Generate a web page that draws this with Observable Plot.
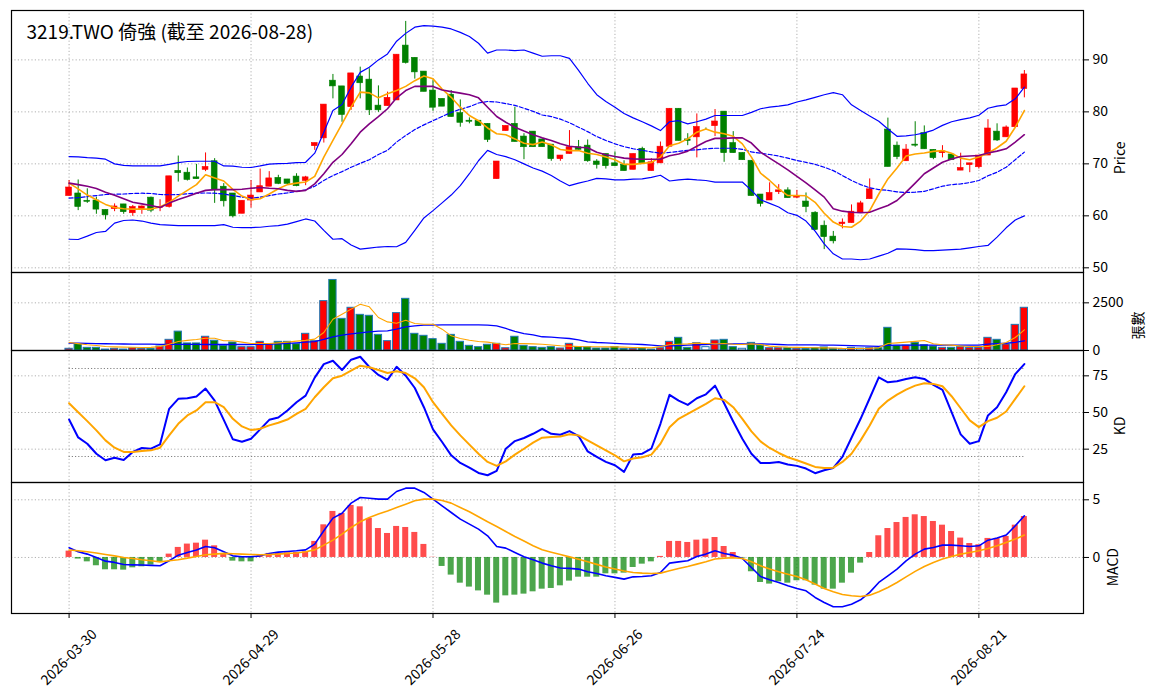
<!DOCTYPE html>
<html><head><meta charset="utf-8">
<script src="https://cdn.jsdelivr.net/npm/d3@7"></script>
<script src="https://cdn.jsdelivr.net/npm/@observablehq/plot@0.6"></script>
<style>
html,body{margin:0;padding:0;background:#fff;}
#chart{width:1156px;height:698px;position:relative;overflow:hidden;}
#chart svg{display:block;}
</style></head><body><div id="chart"></div><script>
const title = "3219.TWO 倚強 (截至 2026-08-28)";
const tickIndex = [0, 20, 40, 60, 80, 100];
const tickLabels = ["2026-03-30", "2026-04-29", "2026-05-28", "2026-06-26", "2026-07-24", "2026-08-21"];
const priceTicks = [50, 60, 70, 80, 90];
const volTicks = [0, 2500];
const kdTicks = [25, 50, 75];
const kdLevels = [20, 80];
const macdTicks = [0, 5];

const open = [63.8,64.3,62.9,62.95,61.15,61.3,62.2,60.5,61.3,63.5,
61.5,61.7,68.65,68.3,67.4,68.85,70.5,65.6,64.3,60.4,
62.95,64.5,65.6,67.3,67.0,67.55,66.7,73.4,74.9,86.0,
84.9,80.9,86.8,86.2,81.2,81.1,82.2,92.75,90.4,87.75,
84.1,82.5,83.3,79.75,78.3,78.3,77.7,67.05,76.3,77.7,
75.25,76.2,74.7,73.7,70.9,71.9,73.2,73.5,70.45,71.9,
70.1,69.8,68.85,72.9,68.6,70.1,73.3,80.6,74.7,75.1,
76.7,77.25,80.05,74.0,72.1,70.6,64.1,62.95,64.55,64.9,
63.5,62.75,60.6,58.1,56.0,58.4,58.6,60.6,63.2,71.5,
76.6,73.5,70.5,73.7,75.9,72.7,72.05,71.8,68.7,69.75,
69.35,71.6,76.2,75.1,77.05,84.4];
const high = [66.8,66.9,65.2,63.6,61.15,62.3,62.2,62.0,61.9,63.6,
63.1,67.6,71.5,69.2,69.9,72.1,71.0,66.2,64.3,62.9,
66.8,69.0,68.5,67.8,67.0,68.1,67.6,74.0,81.4,87.2,
84.9,87.4,88.6,88.3,85.0,83.8,91.0,97.4,90.4,87.75,
86.1,82.5,84.1,82.3,78.85,78.3,77.7,70.45,77.3,80.9,
75.8,76.2,74.7,73.7,71.6,76.4,74.5,74.6,70.8,71.9,
72.3,70.6,71.9,73.2,71.0,74.2,80.6,80.6,75.8,79.6,
76.9,80.45,80.05,76.2,72.1,70.6,64.1,66.35,66.0,65.4,
64.9,64.4,60.8,59.0,57.0,59.4,62.1,62.8,67.1,71.5,
78.8,74.2,73.7,78.1,77.3,72.7,73.5,71.8,72.05,70.1,
71.6,78.5,77.7,77.3,84.5,87.95];
const low = [63.8,61.0,62.4,60.3,59.2,60.8,60.3,59.9,60.3,60.6,
60.8,61.5,66.5,66.7,67.05,68.5,62.4,61.7,59.6,60.4,
61.5,64.5,65.6,66.0,66.0,65.6,65.8,72.6,74.0,82.5,
78.0,80.3,82.5,79.3,79.9,81.1,82.2,89.2,86.3,83.85,
80.1,81.0,79.0,77.05,77.7,77.25,74.1,67.05,76.3,74.2,
70.8,73.2,73.2,70.5,70.5,71.9,72.6,70.3,69.0,69.0,
69.55,68.6,68.85,70.1,68.6,70.1,73.3,74.4,73.5,71.15,
76.5,75.25,70.3,72.05,70.7,63.8,61.7,62.95,64.1,63.4,
63.3,60.6,57.2,53.5,54.6,57.5,58.6,60.6,63.2,71.5,
69.4,70.8,70.5,73.2,72.8,70.8,71.15,70.7,68.7,68.3,
69.0,71.6,74.3,75.1,77.05,82.7];
const close = [65.45,61.7,62.7,61.2,60.1,61.8,60.7,61.7,61.8,61.0,
61.7,67.6,68.2,66.9,67.05,69.4,64.9,62.8,59.9,62.9,
63.9,65.7,67.2,66.15,66.15,65.7,67.4,74.0,81.4,84.9,
79.4,87.4,85.5,80.3,80.3,82.7,91.0,89.4,87.6,83.85,
80.8,81.0,79.0,77.9,78.1,77.25,74.6,70.45,77.3,74.2,
73.2,73.2,73.2,70.9,71.6,73.2,72.7,70.5,69.8,69.55,
69.55,68.6,71.9,70.1,70.3,73.3,80.6,74.4,74.4,77.1,
76.7,78.15,72.05,72.05,70.7,63.8,62.3,64.4,64.9,63.4,
63.8,61.7,57.3,55.9,55.1,58.7,60.8,62.4,65.1,71.5,
69.4,71.3,72.75,73.5,72.8,71.1,72.4,70.7,69.2,70.1,
71.6,76.8,74.5,77.0,84.5,87.2];
const volume = [90,330,140,140,50,90,50,120,90,90,
210,560,990,370,370,720,510,245,420,175,
175,455,315,455,455,330,875,490,2590,3700,
1660,2240,1870,1820,820,490,1960,2710,875,770,
595,350,820,455,245,175,300,350,120,720,
245,175,140,175,105,350,175,175,105,105,
175,90,90,105,50,120,455,665,140,385,
175,525,560,175,90,400,260,120,120,120,
90,90,120,160,90,70,140,100,120,120,
1190,245,260,400,280,210,140,140,175,140,
140,665,560,315,1345,2240];
const flatVolumeDays = [64, 70, 74, 85, 87];

const ma5 = [66.3,65.2,64.0,63.1,62.2,61.6,61.35,61.3,61.3,61.3,
61.7,62.6,63.8,64.9,66.0,67.9,67.3,66.7,65.1,63.8,
63.1,63.3,64.2,65.2,66.0,66.3,66.5,67.6,71.3,74.5,
77.7,80.9,83.8,83.65,82.7,83.5,84.1,84.9,86.0,86.9,
86.35,84.4,82.8,80.9,79.3,78.3,76.9,75.8,75.6,74.8,
73.95,73.7,74.2,73.65,72.75,72.55,72.55,72.05,71.8,71.3,
70.8,69.9,69.9,70.1,70.25,71.3,73.5,73.95,74.8,76.1,
76.7,76.1,75.8,75.3,73.85,71.3,68.2,66.8,65.2,63.9,
63.9,63.85,62.6,60.5,58.8,57.95,57.8,59.0,61.0,64.2,
67.1,69.2,71.5,71.9,72.1,72.4,72.55,72.05,71.1,70.8,
71.3,72.05,73.1,74.35,77.05,80.25];
const ma10 = [66.3,66.0,65.7,65.25,64.55,63.95,63.3,62.6,62.3,62.0,
61.6,62.45,63.15,63.7,64.35,64.9,65.05,65.05,65.05,65.1,
65.3,65.45,65.3,65.2,64.9,64.7,64.9,66.15,68.1,70.3,
71.8,73.85,76.1,77.7,79.1,80.6,82.7,84.1,84.9,84.9,
84.9,84.2,83.9,83.6,83.3,82.7,80.9,79.1,78.0,77.05,
76.3,75.6,75.0,74.5,73.85,73.4,73.2,73.1,72.25,71.75,
71.4,71.1,70.95,70.9,70.9,70.9,71.55,71.9,72.45,73.4,
74.3,74.9,74.9,75.0,75.0,74.0,72.25,71.1,70.0,68.85,
67.6,66.35,65.0,63.6,61.35,60.9,60.7,60.6,60.7,61.35,
62.0,62.95,64.55,66.3,68.1,69.2,70.3,70.95,71.4,71.5,
71.6,72.1,72.45,72.9,74.2,75.6];
const bbUpper = [71.4,71.35,71.2,71.1,70.9,70.0,69.7,69.6,69.6,69.6,
69.6,69.9,70.25,70.45,70.5,70.5,70.5,69.6,69.55,69.35,
69.3,69.6,69.95,70.05,70.1,70.25,70.3,72.05,76.1,80.25,
81.4,84.75,87.6,88.6,90.0,91.15,93.6,95.1,96.3,96.6,
96.5,96.3,95.95,95.3,94.5,93.2,91.3,91.9,91.9,91.8,
91.9,91.3,90.7,90.8,90.8,90.3,88.0,85.5,83.3,82.0,
80.9,79.7,78.85,78.1,77.3,76.4,78.1,78.3,77.7,78.1,
78.6,79.3,79.3,79.3,79.3,79.9,80.6,80.9,81.1,81.35,
81.9,82.3,82.8,83.3,83.7,83.3,81.35,80.25,79.2,78.2,
76.7,75.3,75.4,75.6,75.95,76.5,77.4,78.1,78.5,78.85,
79.35,80.7,81.1,81.35,82.5,84.75];
const bbMid = [63.4,63.5,63.7,63.9,64.1,64.15,64.2,64.3,64.35,64.3,
64.1,64.05,64.1,64.25,64.35,64.4,64.35,64.2,63.9,63.6,
63.4,63.6,63.9,64.2,64.4,64.7,65.0,65.7,66.8,67.75,
68.5,69.35,70.1,70.8,71.8,72.6,74.2,75.45,76.6,77.5,
78.3,79.1,79.9,80.5,81.0,81.7,82.0,81.9,81.6,81.25,
80.7,80.1,79.4,79.1,78.6,77.9,77.05,76.2,75.25,74.5,
73.85,73.3,72.9,72.6,72.3,72.05,72.2,72.4,72.6,72.7,
72.9,73.0,73.0,73.0,72.8,72.3,72.05,71.8,71.5,71.1,
70.65,70.3,69.9,69.35,68.7,67.75,66.8,66.0,65.4,65.05,
64.9,64.6,64.5,64.55,64.7,65.2,65.7,66.0,66.15,66.4,
66.8,67.7,68.4,69.35,70.8,72.25];
const bbLower = [55.5,55.45,56.1,56.8,57.0,58.6,59.1,59.2,59.0,58.6,
58.3,58.2,58.1,58.1,58.1,58.1,58.1,58.3,57.8,57.75,
57.75,57.8,58.0,58.1,58.4,58.9,59.4,59.0,57.2,55.5,
55.6,54.4,53.6,53.8,54.0,54.1,54.05,54.9,57.2,59.6,
61.0,62.5,64.0,65.8,68.1,70.6,72.6,71.8,71.4,70.8,
70.0,69.2,68.6,67.75,66.7,65.8,66.3,66.7,67.2,67.1,
66.9,66.9,67.05,67.1,67.4,67.8,66.7,66.9,67.05,66.9,
66.8,66.5,66.5,66.5,66.5,64.9,63.1,62.4,61.7,60.6,
60.1,59.0,57.05,54.6,52.7,51.7,51.7,51.55,51.7,52.25,
52.8,53.65,53.6,53.5,53.3,53.3,53.4,53.5,53.6,53.85,
54.1,54.3,55.9,57.7,59.2,60.0];

const volMa5 = [420,360,300,260,210,190,175,170,160,165,
210,330,470,530,575,645,645,510,510,440,
370,370,370,400,440,490,530,595,945,1640,
1905,2170,2430,2290,1730,1500,1430,1590,1415,1380,
1380,1120,770,630,540,470,440,370,300,370,
360,350,330,290,250,230,210,200,195,190,
190,175,160,150,140,210,300,330,350,385,
370,350,370,330,315,350,315,230,200,175,
165,155,145,140,130,110,105,105,115,140,
370,400,440,480,525,350,300,280,240,210,
210,210,300,420,680,1085];
const volMa20 = [385,380,375,365,355,345,340,335,330,330,
325,325,325,320,320,315,315,315,315,315,
315,320,330,350,370,400,440,470,580,720,
805,875,925,980,1015,1030,1120,1240,1290,1330,
1330,1340,1340,1340,1340,1340,1330,1290,1155,1000,
890,820,720,700,665,630,560,455,420,400,
370,350,330,315,280,245,245,260,280,300,
315,330,350,350,350,350,350,330,315,300,
300,295,290,285,280,270,255,240,225,215,
270,280,280,280,280,280,280,280,280,280,
280,330,360,380,430,510];

const kValues = [45.2,33.0,28.7,21.9,17.4,19.2,17.6,23.1,25.8,25.3,
28.3,52.5,59.3,59.7,60.9,66.3,58.1,45.0,31.7,30.1,
32.1,38.5,45.0,46.6,51.4,57.0,61.5,73.8,83.0,85.3,
79.0,86.0,88.0,81.0,75.6,72.2,81.2,75.1,66.7,53.6,
38.5,29.9,20.8,15.6,12.4,8.8,7.2,10.2,25.3,30.5,
32.6,35.5,38.9,35.5,34.8,37.3,33.9,23.5,19.7,16.3,
14.0,9.5,21.3,21.9,25.3,42.3,62.0,58.1,55.2,59.7,
62.4,68.3,56.3,43.9,32.1,21.9,15.6,15.6,16.3,14.5,
13.6,11.8,8.6,10.6,12.2,19.7,32.8,45.7,59.7,74.0,
70.6,71.3,72.9,74.0,72.9,68.8,65.4,50.2,35.1,28.7,
30.5,48.0,53.6,63.8,76.2,83.0];
const dValues = [56.3,50.2,44.1,37.8,31.0,26.0,23.1,23.1,23.8,24.2,
26.0,34.4,42.3,48.0,51.4,57.0,57.0,53.6,45.7,40.5,
38.0,38.9,41.2,43.0,45.2,49.1,52.5,60.4,67.2,73.3,
75.1,78.5,81.9,80.8,79.0,76.9,78.1,76.9,73.3,67.2,
57.0,49.1,41.2,34.4,28.1,21.9,16.3,13.6,16.7,21.3,
25.3,29.4,32.8,33.3,33.7,35.1,34.4,31.0,27.6,24.2,
20.8,16.7,18.6,19.5,21.3,28.7,40.0,45.7,49.1,52.5,
55.9,59.7,58.6,53.6,45.7,37.1,30.3,25.8,22.4,19.5,
17.4,15.2,12.9,12.2,12.4,16.3,21.9,31.0,41.2,52.5,
58.1,62.2,65.6,68.3,69.9,69.5,67.9,61.1,52.9,44.6,
40.0,44.1,46.4,50.7,59.3,67.9];

const macd = [0.84,0.49,0.29,0,-0.32,-0.43,-0.61,-0.64,-0.66,-0.69,
-0.72,-0.29,0.2,0.43,0.64,0.95,0.84,0.49,0.14,0.06,
0.06,0.14,0.35,0.46,0.52,0.58,0.66,1.16,2.31,3.41,
3.84,4.71,5.2,5.14,5.06,5.06,5.72,6.01,6.01,5.64,
5.06,4.48,3.9,3.32,2.89,2.46,1.88,0.95,0.81,0.43,
0.06,-0.2,-0.49,-0.72,-0.92,-0.95,-1.01,-1.24,-1.39,-1.59,
-1.73,-1.88,-1.68,-1.65,-1.59,-1.3,-0.49,-0.38,-0.29,0.09,
0.29,0.58,0.35,0.2,-0.09,-0.87,-1.65,-1.94,-2.17,-2.46,
-2.69,-2.89,-3.47,-3.9,-4.28,-4.28,-4.05,-3.67,-3.03,-2.17,
-1.59,-1.01,-0.29,0.29,0.72,0.87,1.07,1.07,1.01,0.95,
1.01,1.5,1.68,1.94,2.75,3.61];
const signal = [0.64,0.58,0.49,0.38,0.26,0.14,0,-0.09,-0.2,-0.29,
-0.38,-0.29,-0.2,-0.06,0.09,0.23,0.29,0.35,0.32,0.29,
0.26,0.23,0.26,0.29,0.35,0.38,0.49,0.66,1.07,1.5,
2.02,2.6,3.09,3.47,3.76,4.02,4.34,4.62,4.91,5.06,
5.06,4.94,4.71,4.34,3.96,3.53,3.09,2.69,2.25,1.82,
1.42,1.01,0.66,0.45,0.25,0.05,-0.15,-0.38,-0.6,-0.82,
-1.0,-1.18,-1.3,-1.36,-1.39,-1.36,-1.16,-0.95,-0.78,-0.58,
-0.38,-0.14,-0.06,-0.03,-0.09,-0.38,-0.72,-1.01,-1.24,-1.45,
-1.65,-1.94,-2.31,-2.69,-2.98,-3.21,-3.32,-3.38,-3.27,-2.98,
-2.6,-2.17,-1.68,-1.21,-0.78,-0.43,-0.14,0.09,0.29,0.43,
0.58,0.78,1.01,1.3,1.59,1.94];
const hist = [0.55,-0.14,-0.38,-0.72,-1.07,-1.07,-1.1,-0.9,-0.81,-0.66,
-0.35,0.29,0.87,1.16,1.24,1.5,1.01,0.29,-0.32,-0.38,
-0.38,0.14,0.35,0.35,0.4,0.43,0.49,1.39,2.83,3.99,
3.82,4.51,4.39,3.38,2.51,2.08,2.69,2.6,2.17,1.13,
0.02,-0.78,-1.53,-2.23,-2.57,-2.9,-3.27,-3.96,-3.33,-3.27,
-3.18,-2.98,-2.75,-2.69,-2.46,-2.05,-1.71,-1.71,-1.71,-1.42,
-1.42,-1.36,-0.87,-0.58,-0.38,0.09,1.39,1.39,1.3,1.5,
1.59,1.73,0.95,0.43,-0.06,-1.24,-2.17,-2.31,-2.11,-2.23,
-2.02,-2.02,-2.4,-2.75,-2.75,-2.23,-1.36,-0.49,0.43,1.88,
2.51,3.03,3.47,3.7,3.55,3.12,2.8,2.25,1.68,1.21,
1.1,1.65,1.65,1.82,2.8,3.55];

// ---------- rendering ----------
const FONT = "'Noto Sans CJK TC', 'Noto Sans', sans-serif";
const UP = "#ff0000", DOWN = "#008000";
const idx = d3.range(close.length);
const first = idx[0], last = idx[idx.length - 1];
const candleColor = i => close[i] > open[i] ? UP : DOWN;
const volColor = i => flatVolumeDays.includes(i) ? "#ffffff" : candleColor(i);
const gridStyle = {stroke: "#b0b0b0", strokeWidth: 1, strokeDasharray: "1.2,2.2"};

function base(height, extra) {
  return Object.assign({
    width: 1156, height,
    marginLeft: 11, marginRight: 73, marginTop: 0, marginBottom: 0,
    x: {domain: [-6.33, 111.5], axis: null},
    color: {type: "identity"},
    style: {fontFamily: FONT, fontSize: "14px", background: "transparent", overflow: "visible", color: "#000"}
  }, extra);
}
const xGrid = () => Plot.ruleX(tickIndex, gridStyle);
const yAxis = ticks => Plot.axisY(ticks, {anchor: "right", tickSize: 5, tickPadding: 4, label: null, tickFormat: d => String(d)});
const yLabel = (t, dx) => Plot.text([t], {text: d => d, frameAnchor: "right", dx, rotate: -90, fontSize: 14});
const frame = () => Plot.frame({stroke: "black", strokeWidth: 1.2});
const line = (arr, stroke, strokeWidth, extra) => Plot.line(idx, Object.assign({x: i => i, y: i => arr[i], stroke, strokeWidth}, extra || {}));

const pricePlot = Plot.plot(base(272, {
  marginTop: 10,
  y: {domain: [49.1, 99.5], axis: null},
  marks: [
    Plot.ruleY(priceTicks, gridStyle),
    xGrid(),
    Plot.ruleX(idx, {x: i => i, y1: i => low[i], y2: i => high[i], stroke: candleColor, strokeWidth: 1}),
    Plot.rect(idx, {x1: i => i - 0.32, x2: i => i + 0.32, y1: i => open[i], y2: i => close[i], fill: candleColor, stroke: candleColor, strokeWidth: 0.6}),
    line(bbUpper, "blue", 1.2),
    line(bbLower, "blue", 1.2),
    line(bbMid, "blue", 1.2, {strokeDasharray: "4,2"}),
    line(ma5, "orange", 1.6),
    line(ma10, "purple", 1.6),
    yAxis(priceTicks),
    yLabel("Price", 37),
    Plot.text([title], {text: d => d, frameAnchor: "top-left", dx: 15, dy: 22, fontSize: 19, textAnchor: "start", lineAnchor: "middle"}),
    frame()
  ]
}));

const volumePlot = Plot.plot(base(78, {
  y: {domain: [0, 4091], axis: null},
  marks: [
    Plot.ruleY(volTicks, gridStyle),
    xGrid(),
    Plot.rect(idx, {x1: i => i - 0.4, x2: i => i + 0.4, y1: i => 0, y2: i => volume[i], fill: volColor, stroke: "#1f77b4", strokeWidth: 1}),
    line(volMa20, "blue", 1.3),
    line(volMa5, "orange", 1.1),
    yAxis(volTicks),
    yLabel("張數", 55),
    frame()
  ]
}));

const kdPlot = Plot.plot(base(132, {
  y: {domain: [2.27, 92.27], axis: null},
  marks: [
    Plot.ruleY(kdTicks, gridStyle),
    xGrid(),
    Plot.ruleY(kdLevels, {x1: () => first, x2: () => last, stroke: "#808080", strokeWidth: 1, strokeDasharray: "1.2,2"}),
    line(kValues, "blue", 2),
    line(dValues, "orange", 2),
    yAxis(kdTicks),
    yLabel("KD", 37),
    frame()
  ]
}));

const macdPlot = Plot.plot(base(216, {
  marginBottom: 85,
  y: {domain: [-4.86, 6.5], axis: null},
  marks: [
    Plot.ruleY(macdTicks, gridStyle),
    xGrid(),
    Plot.rect(idx, {x1: i => i - 0.33, x2: i => i + 0.33, y1: i => 0, y2: i => hist[i], fill: i => hist[i] >= 0 ? UP : DOWN, fillOpacity: 0.7}),
    line(macd, "blue", 1.6),
    line(signal, "orange", 1.6),
    yAxis(macdTicks),
    Plot.axisX(tickIndex, {anchor: "bottom", tickSize: 5, tickFormat: () => "", label: null}),
    Plot.text(tickIndex, {x: d => d, text: d => tickLabels[tickIndex.indexOf(d)], frameAnchor: "bottom", dy: 44, rotate: -45, textAnchor: "middle", lineAnchor: "middle", fontSize: 14}),
    yLabel("MACD", 30),
    frame()
  ]
}));

const chart = document.getElementById("chart");
[pricePlot, volumePlot, kdPlot, macdPlot].forEach(svg => chart.appendChild(svg));
</script></body></html>
